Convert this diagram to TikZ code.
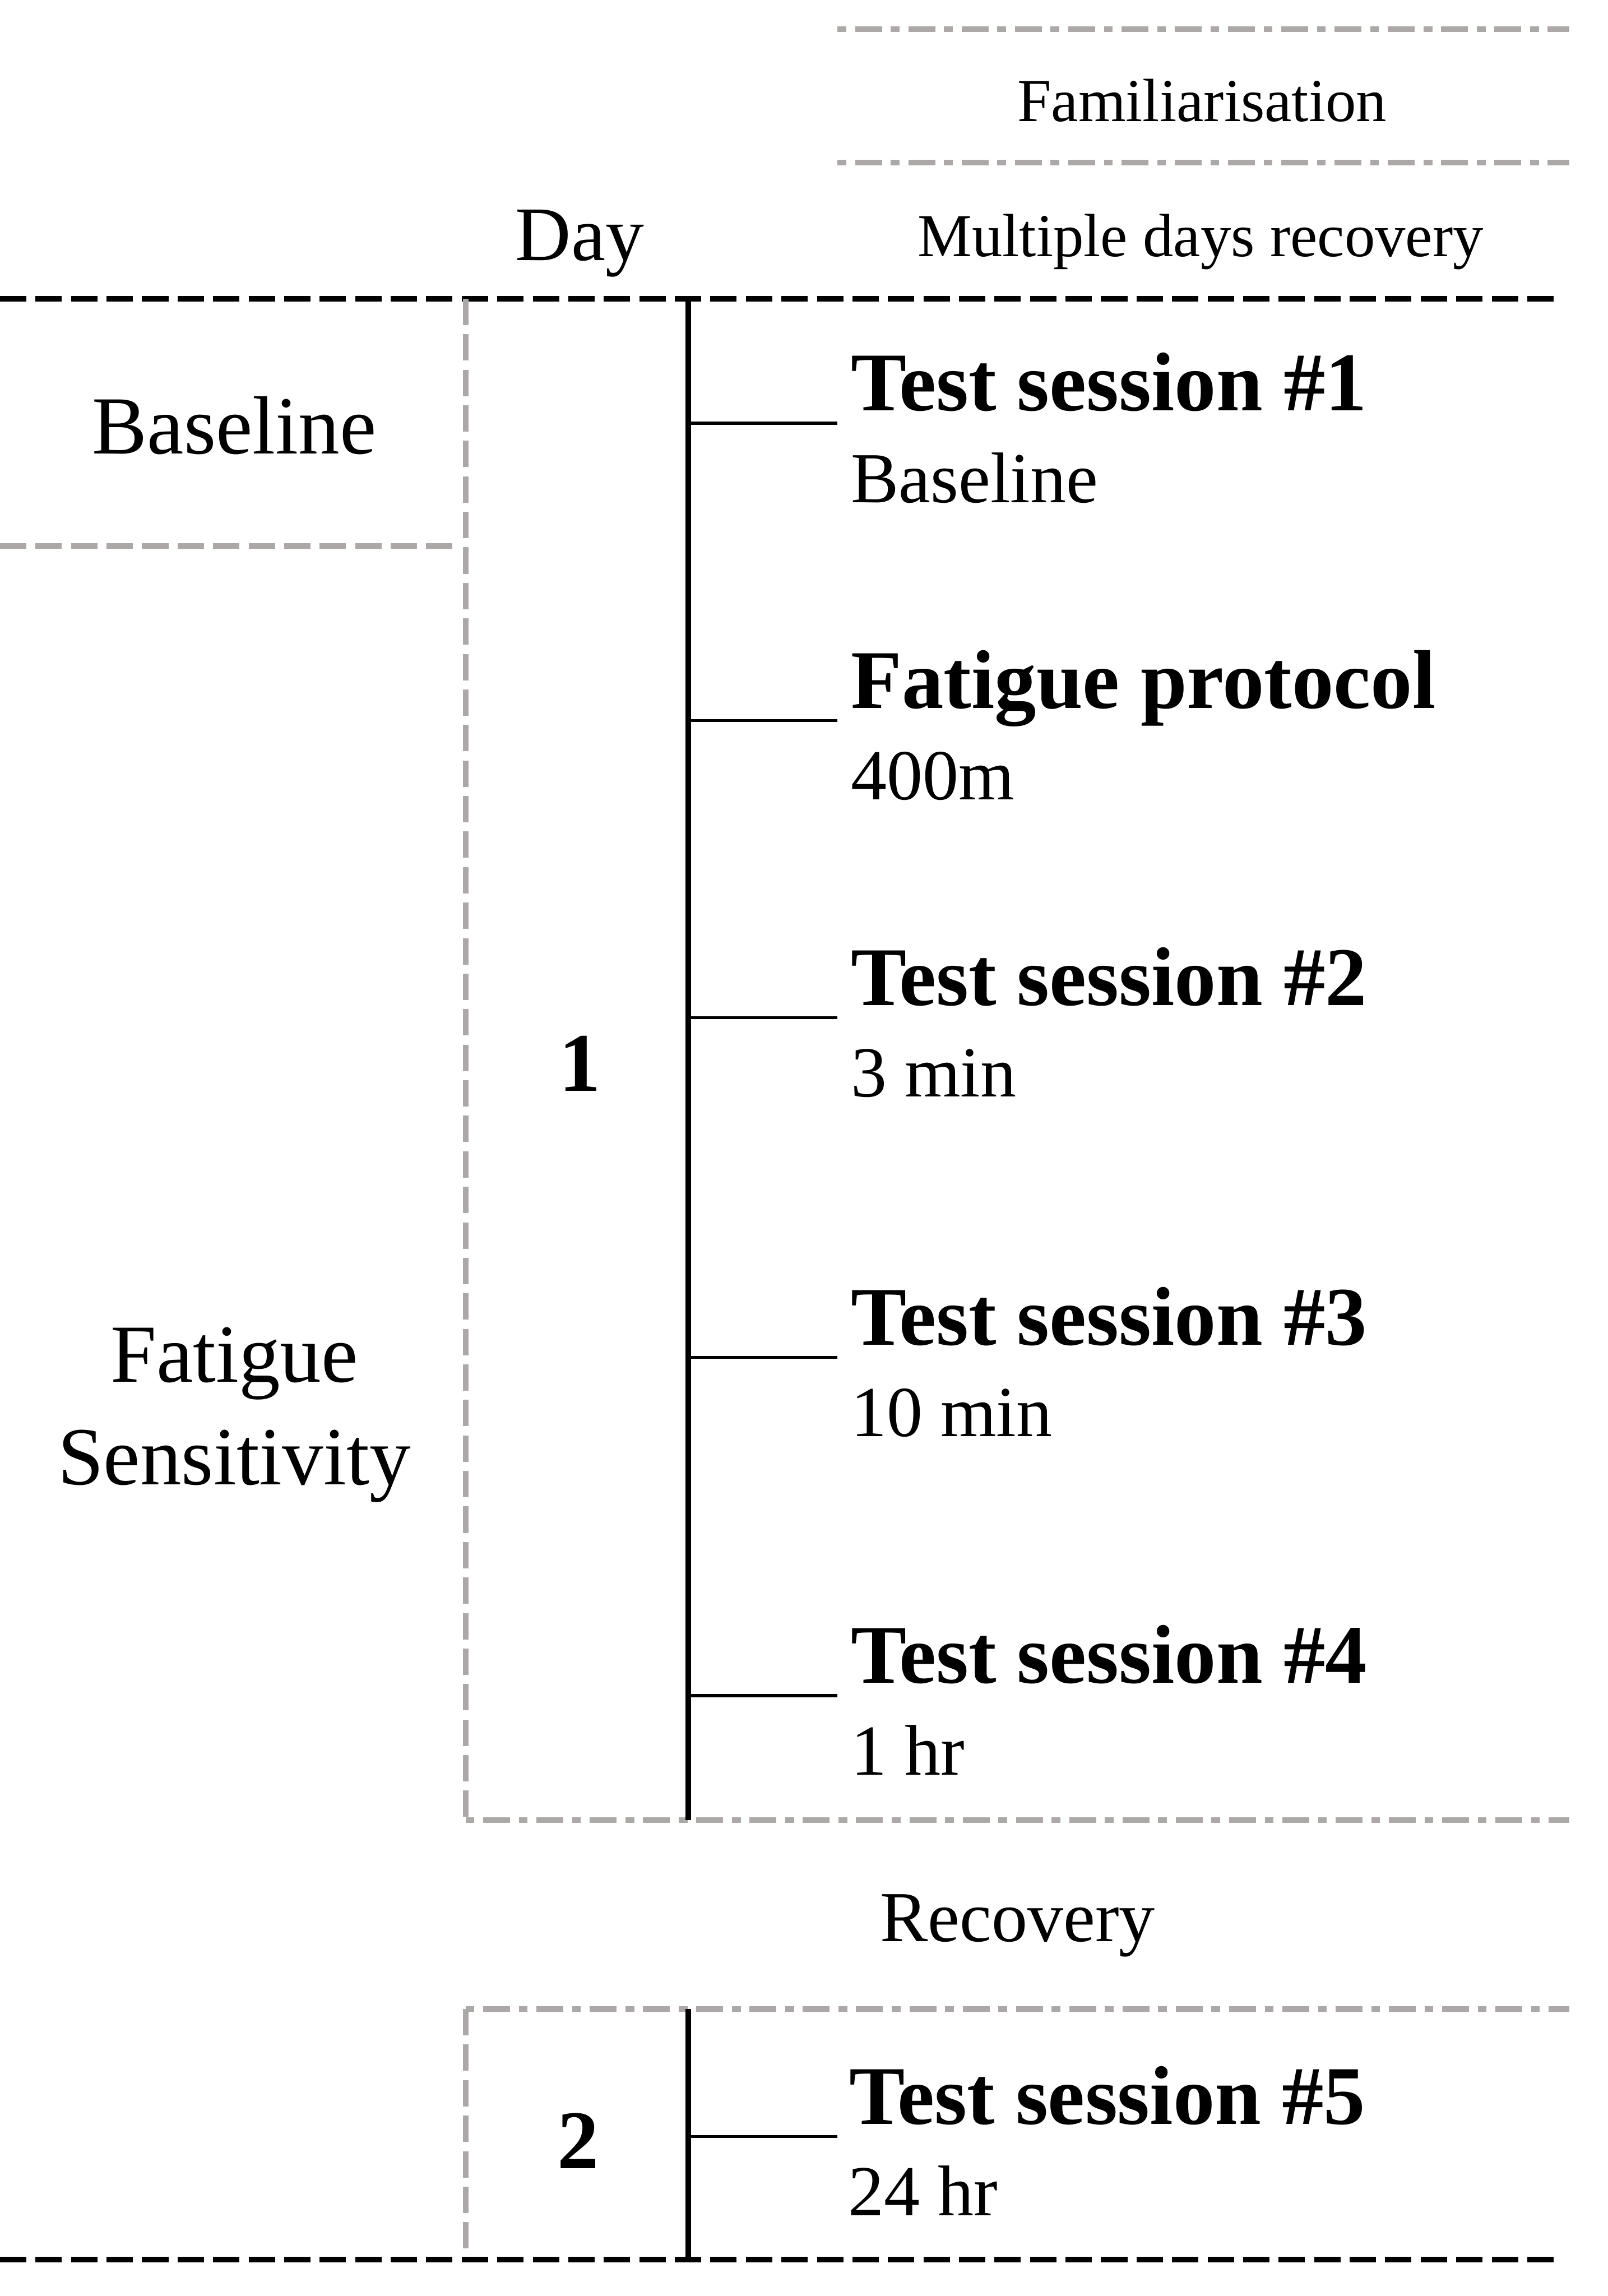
\documentclass[tikz,border=0pt]{standalone}
\usepackage{fontspec}
\setmainfont{Liberation Serif}
\definecolor{lgray}{RGB}{172,168,168}
\begin{document}
\begin{tikzpicture}[x=0.02869cm,y=-0.02869cm,
  blackdash/.style={line width=3.2pt,dash pattern=on 14.7pt off 5.1pt},
  graydash/.style={draw=lgray,line width=3.2pt,dash pattern=on 14.7pt off 5.1pt},
  graydashdot/.style={draw=lgray,line width=3.2pt,dash pattern=on 4.9pt off 4.9pt on 15pt off 4.9pt},
  timeline/.style={line width=3.1pt},
  tickline/.style={line width=1.6pt},
  lbl/.style={inner sep=0pt,anchor=base},
  lbll/.style={inner sep=0pt,anchor=base west},
  small/.style={font=\fontsize{34pt}{40pt}\selectfont},
  big/.style={font=\fontsize{46pt}{57pt}\selectfont},
  head/.style={font=\fontsize{46.5pt}{56pt}\selectfont\bfseries},
  sub/.style={font=\fontsize{40pt}{48pt}\selectfont},
  dayf/.style={font=\fontsize{43pt}{50pt}\selectfont}]
\useasboundingbox (0,0) rectangle (1098,1568);
% frame lines
\draw[graydashdot] (572,20) coordinate (f1a) -- (1072,20) coordinate (f1b);
\draw[graydashdot] (572,111) coordinate (f2a) -- (1072,111) coordinate (f2b);
\draw[blackdash] (0,204) coordinate (t1a) -- (1065,204) coordinate (t1b);
\draw[graydash] (318,204) coordinate (v1a) -- (318,1243) coordinate (v1b);
\draw[graydash] (0,373) coordinate (h1a) -- (313,373) coordinate (h1b);
\draw[graydashdot] (v1b) -- (1072,1243) coordinate (r1b);
\draw[graydashdot] (318,1372) coordinate (v2a) -- (1072,1372) coordinate (r2b);
\draw[graydash] (v2a) -- (318,1543) coordinate (v2b);
\draw[blackdash] (0,1543) coordinate (b1a) -- (1065,1543) coordinate (b1b);
% timelines
\coordinate (L1a) at (470,204);
\coordinate (L1b) at (470,1243);
\coordinate (L2a) at (470,1372);
\coordinate (L2b) at (470,1543);
\draw[timeline] (L1a) -- (L1b);
\draw[timeline] (L2a) -- (L2b);
% ticks
\foreach \n/\y in {1/289,2/492,3/695,4/927,5/1158,6/1459}{
  \coordinate (k\n) at (470,\y);
  \coordinate (e\n) at (572,\y);
  \draw[tickline] (k\n) -- (e\n);
}
% header texts
\node[lbl,small] (fam) at (821,83) {Familiarisation};
\node[lbl,small] (mdr) at (820,175) {Multiple days recovery};
\node[lbl,dayf] (day) at (396,178) {Day};
% left labels
\node[lbl,big] (lbase) at (160,310) {Baseline};
\node[lbl,big] (lfat) at (160,944) {Fatigue};
\node[lbl,big] (lsens) at (160,1014) {Sensitivity};
\node[lbl,head] (d1) at (396,745) {1};
\node[lbl,head] (d2) at (395,1481) {2};
\node[lbl,sub] (rec) at (695,1326) {Recovery};
% right texts
\node[lbll,head] (s1) at (581,280.5) {Test session \#1};
\node[lbll,sub] (s1b) at (581,343) {Baseline};
\node[lbll,head] (s2) at (581,483.5) {Fatigue protocol};
\node[lbll,sub] (s2b) at (581,546) {400m};
\node[lbll,head] (s3) at (581,686.5) {Test session \#2};
\node[lbll,sub] (s3b) at (581,749) {3 min};
\node[lbll,head] (s4) at (581,918.5) {Test session \#3};
\node[lbll,sub] (s4b) at (581,981) {10 min};
\node[lbll,head] (s5) at (581,1149.5) {Test session \#4};
\node[lbll,sub] (s5b) at (581,1212) {1 hr};
\node[lbll,head] (s6) at (580,1450.5) {Test session \#5};
\node[lbll,sub] (s6b) at (579,1513) {24 hr};
\end{tikzpicture}
\end{document}
